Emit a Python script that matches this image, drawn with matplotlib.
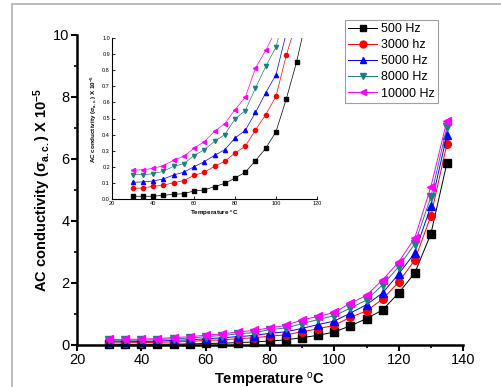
import matplotlib.pyplot as plt
from matplotlib.patches import Rectangle

plt.rcParams['font.family'] = ['Liberation Sans', 'DejaVu Sans']
plt.rcParams['mathtext.fontset'] = 'custom'
plt.rcParams['mathtext.rm'] = 'Liberation Sans'
plt.rcParams['mathtext.bf'] = 'Liberation Sans:bold'
plt.rcParams['mathtext.it'] = 'Liberation Sans:italic'

temps = [30, 35, 40, 45, 50, 55, 60, 65, 70, 75, 80, 85, 90, 95, 100,
         105, 110, 115, 120, 125, 130, 135]

hz500 = [0.017, 0.017, 0.017, 0.023, 0.029, 0.033, 0.050, 0.056, 0.077, 0.097, 0.130,
         0.166, 0.238, 0.315, 0.418, 0.621, 0.849, 1.13, 1.68, 2.32, 3.58, 5.87]
hz3000 = [0.066, 0.068, 0.079, 0.085, 0.101, 0.114, 0.147, 0.166, 0.203, 0.234, 0.286,
          0.327, 0.429, 0.524, 0.638, 0.892, 1.10, 1.48, 2.03, 2.74, 4.16, 6.48]
hz5000 = [0.104, 0.106, 0.112, 0.124, 0.149, 0.166, 0.200, 0.232, 0.271, 0.306, 0.379,
          0.426, 0.538, 0.660, 0.772, 1.03, 1.30, 1.68, 2.29, 2.97, 4.48, 6.77]
hz8000 = [0.151, 0.151, 0.157, 0.172, 0.203, 0.219, 0.269, 0.306, 0.358, 0.400, 0.497,
          0.549, 0.689, 0.824, 0.944, 1.19, 1.45, 1.94, 2.52, 3.26, 4.77, 7.03]
hz10000 = [0.178, 0.182, 0.190, 0.207, 0.240, 0.265, 0.315, 0.356, 0.420, 0.468, 0.555,
           0.631, 0.814, 0.923, 1.05, 1.35, 1.60, 2.10, 2.68, 3.45, 5.10, 7.23]

labels = ['500 Hz', '3000 hz', '5000 Hz', '8000 Hz', '10000 Hz']
series = [hz500, hz3000, hz5000, hz8000, hz10000]
colors = ['black', 'red', 'blue', '#1f7f7f', 'magenta']
markers = ['s', 'o', '^', 'v', '<']

fig = plt.figure(figsize=(5.01, 3.87), dpi=100)

# gray frame around the figure
fig.patches.append(Rectangle((12 / 501, -0.05), 1.2, 1 - 4 / 387 + 0.05,
                             transform=fig.transFigure, fill=False,
                             edgecolor='#b0b0b0', lw=1.2))

ax = fig.add_axes([77 / 501, 1 - 345 / 387, (463 - 77) / 501, (345 - 35) / 387])
for y, lab, c, m in zip(series, labels, colors, markers):
    ax.plot(temps, y, color=c, lw=0.7, marker=m, markersize=5.5,
            markeredgecolor=c, label=lab, clip_on=False)

ax.set_xlim(20, 140)
ax.set_ylim(0, 10)
ax.set_xticks([20, 40, 60, 80, 100, 120, 140])
ax.set_yticks([0, 2, 4, 6, 8, 10])
ax.set_xticks(range(30, 140, 20), minor=True)
ax.set_yticks(range(1, 10, 2), minor=True)
for s in ['top', 'right']:
    ax.spines[s].set_visible(False)
for s in ['left', 'bottom']:
    ax.spines[s].set_linewidth(1.8)
ax.tick_params(direction='out', which='major', length=4, width=1.5, labelsize=10.5, pad=1.5)
ax.tick_params(direction='out', which='minor', length=2.5, width=1.2)
ax.set_xlabel('Temperature $^{\\mathrm{o}}$C', fontsize=10.5, fontweight='bold', labelpad=3)
ax.set_ylabel('AC conductivity ($\\mathbf{\\sigma_{a.c.}}$) X 10$^{\\mathbf{-5}}$',
              fontsize=10.5, fontweight='bold', labelpad=0)

leg = ax.legend(loc='upper left', bbox_to_anchor=((345 - 77) / 386, (345 - 20) / 310),
                fontsize=9, frameon=True, fancybox=False, edgecolor='#888888',
                handlelength=2.3, borderpad=0.25, labelspacing=0.33, handletextpad=0.3,
                borderaxespad=0, markerscale=0.9)
leg.get_frame().set_linewidth(0.8)

# inset
ins = fig.add_axes([112 / 501, 1 - 199 / 387, (317 - 112) / 501, (199 - 38) / 387])
for y, c, m in zip(series, colors, markers):
    ins.plot(temps, y, color=c, lw=0.5, marker=m, markersize=3, markeredgecolor=c)
ins.set_xlim(20, 120)
ins.set_ylim(0, 1.0)
ins.set_xticks([20, 40, 60, 80, 100, 120])
ins.set_yticks([i / 10 for i in range(11)])
ins.set_yticklabels([f'{i / 10:.1f}' for i in range(11)])
for s in ['top', 'right']:
    ins.spines[s].set_visible(False)
for s in ['left', 'bottom']:
    ins.spines[s].set_linewidth(0.8)
ins.tick_params(direction='in', length=2, width=0.6, labelsize=4, pad=1.5)
ins.set_xlabel('Temperature $^{\\mathrm{o}}$C', fontsize=4.5, fontweight='bold', labelpad=2)
ins.set_ylabel('AC conductivity ($\\mathbf{\\sigma_{a.c.}}$) X 10$^{\\mathbf{-5}}$',
               fontsize=4.5, fontweight='bold', labelpad=2)

fig.savefig('out.png', dpi=100)
